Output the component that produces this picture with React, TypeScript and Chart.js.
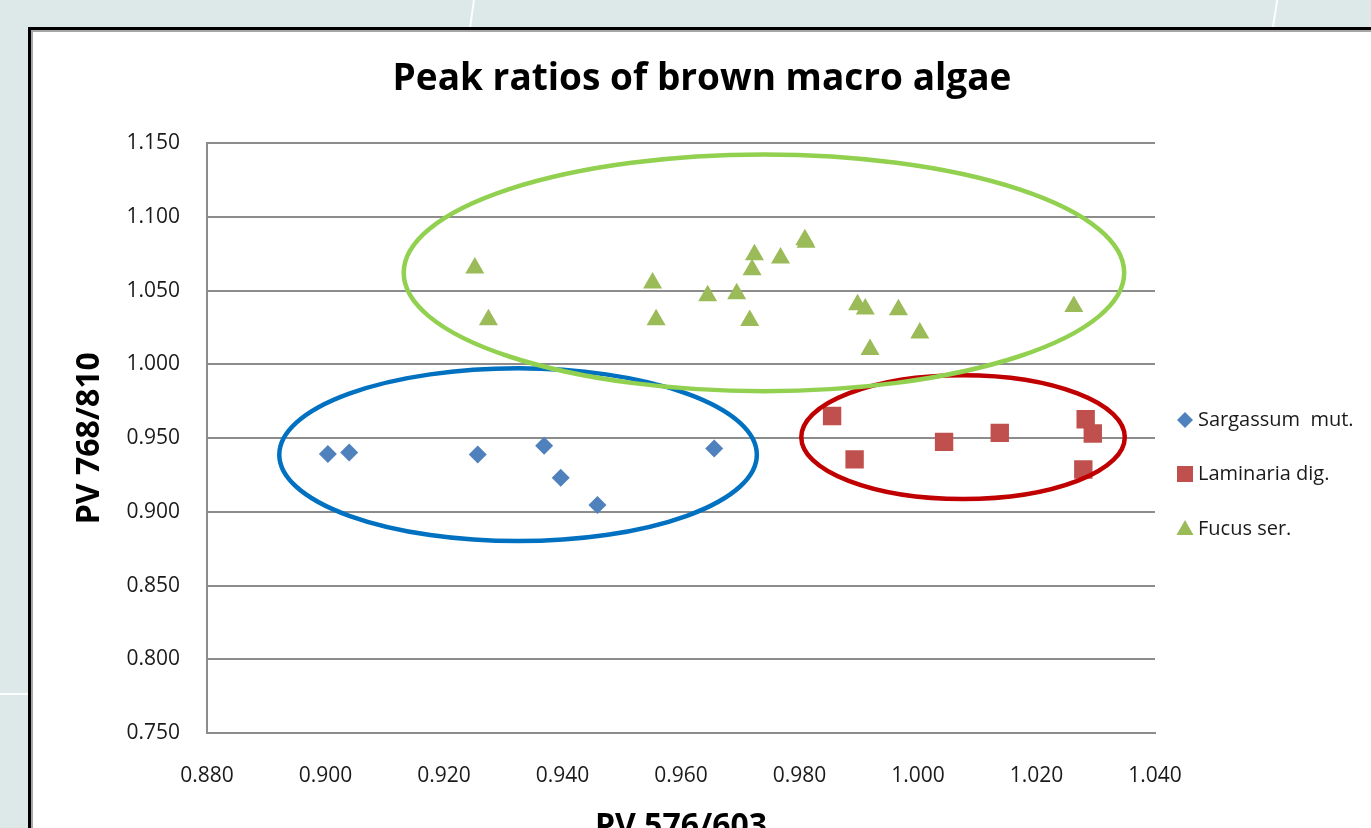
import React, { useEffect, useRef } from "react";
import { Chart, registerables } from "chart.js";

Chart.register(...registerables);

const seriesNames = ["Sargassum  mut.", "Laminaria dig.", "Fucus ser."];

const sargassumX = [0.9004, 0.904, 0.9257, 0.9369, 0.9397, 0.9459, 0.9656];
const sargassumY = [0.9392, 0.9403, 0.9389, 0.9448, 0.9231, 0.9046, 0.943];

const laminariaX = [0.9855, 0.9893, 1.0044, 1.0138, 1.0283, 1.0295, 1.0279];
const laminariaY = [0.9651, 0.9356, 0.9475, 0.9536, 0.9629, 0.9532, 0.9288];

const fucusX = [
  0.9252, 0.9275, 0.9552, 0.9558, 0.9645, 0.9694, 0.9716, 0.972, 0.9724,
  0.9768, 0.9809, 0.9811, 0.9898, 0.9911, 0.9967, 1.0003, 0.9919, 1.0263,
];
const fucusY = [
  1.0654, 1.0304, 1.0553, 1.0304, 1.0467, 1.048, 1.0299, 1.0643, 1.0745,
  1.0722, 1.0846, 1.0829, 1.0406, 1.0376, 1.0372, 1.0214, 1.0101, 1.0394,
];

const xTickValues = [0.88, 0.9, 0.92, 0.94, 0.96, 0.98, 1.0, 1.02, 1.04];
const yTickValues = [0.75, 0.8, 0.85, 0.9, 0.95, 1.0, 1.05, 1.1, 1.15];

// group ellipses (data units): Sargassum, Laminaria, Fucus
const ellipseCenterX = [0.9325, 1.0076, 0.974];
const ellipseCenterY = [0.9388, 0.9507, 1.0622];
const ellipseRadiusX = [0.0403, 0.0273, 0.0608];
const ellipseRadiusY = [0.0586, 0.042, 0.0803];

const markerColors = ["#4f81bd", "#c0504d", "#9bbb59"];
const markerStyles = ["rectRot", "rect", "triangle"];
const markerRadii = [9, 13, 11];
const ellipseColors = ["#0070c0", "#c00000", "#92d050"];

const FONT = "'Open Sans', 'DejaVu Sans', sans-serif";

function pts(xs: number[], ys: number[]) {
  return xs.map((x, i) => ({ x, y: ys[i] }));
}

const ellipsePlugin = {
  id: "groupEllipses",
  afterDatasetsDraw(chart: any) {
    const { ctx, scales } = chart;
    const xs = scales.x;
    const ys = scales.y;
    ctx.save();
    ellipseCenterX.forEach((cx, i) => {
      const px = xs.getPixelForValue(cx);
      const py = ys.getPixelForValue(ellipseCenterY[i]);
      const rx = Math.abs(xs.getPixelForValue(cx + ellipseRadiusX[i]) - px);
      const ry = Math.abs(ys.getPixelForValue(ellipseCenterY[i] + ellipseRadiusY[i]) - py);
      ctx.beginPath();
      ctx.ellipse(px, py, rx, ry, 0, 0, Math.PI * 2);
      ctx.strokeStyle = ellipseColors[i];
      ctx.lineWidth = 4.5;
      ctx.stroke();
    });
    ctx.restore();
  },
};

const legendPlugin = {
  id: "sideLegend",
  afterDraw(chart: any) {
    const { ctx } = chart;
    const mx = 1152;
    const tx = 1165;
    const ys = [388, 442, 497];
    ctx.save();
    chart.data.datasets.forEach((ds: any, i: number) => {
      const y = ys[i];
      ctx.fillStyle = ds.backgroundColor;
      ctx.beginPath();
      if (ds.pointStyle === "rectRot") {
        const r = 8;
        ctx.moveTo(mx - r, y);
        ctx.lineTo(mx, y - r);
        ctx.lineTo(mx + r, y);
        ctx.lineTo(mx, y + r);
        ctx.closePath();
      } else if (ds.pointStyle === "rect") {
        ctx.rect(mx - 8, y - 8, 16, 16);
      } else {
        ctx.moveTo(mx, y - 9);
        ctx.lineTo(mx + 8.5, y + 6);
        ctx.lineTo(mx - 8.5, y + 6);
        ctx.closePath();
      }
      ctx.fill();
      ctx.fillStyle = "#1a1a1a";
      ctx.font = `20px ${FONT}`;
      ctx.textBaseline = "middle";
      ctx.textAlign = "left";
      ctx.fillText(ds.label, tx, y);
    });
    ctx.restore();
  },
};

export default function App() {
  const ref = useRef<HTMLCanvasElement | null>(null);

  useEffect(() => {
    if (!ref.current) return;
    const seriesX = [sargassumX, laminariaX, fucusX];
    const seriesY = [sargassumY, laminariaY, fucusY];
    const chart = new Chart(ref.current, {
      type: "scatter",
      data: {
        datasets: seriesNames.map((name, i) => ({
          label: name,
          data: pts(seriesX[i], seriesY[i]),
          backgroundColor: markerColors[i],
          borderColor: markerColors[i],
          borderWidth: 0,
          pointStyle: markerStyles[i] as any,
          pointRadius: markerRadii[i],
          pointHoverRadius: markerRadii[i],
        })),
      },
      options: {
        responsive: false,
        animation: false,
        layout: { padding: { left: 0, right: 0, top: 0, bottom: 0 } },
        plugins: {
          legend: { display: false },
          tooltip: { enabled: false },
          title: {
            display: true,
            text: "Peak ratios of brown macro algae",
            color: "#000",
            font: { family: FONT, size: 37, weight: "bold" },
            padding: { top: 25, bottom: 42 },
          },
        },
        scales: {
          x: {
            type: "linear",
            min: 0.88,
            max: 1.04,
            afterBuildTicks: (s: any) => {
              s.ticks = xTickValues.map((v) => ({ value: v }));
            },
            afterFit: (s: any) => {
              s.height = 120;
            },
            grid: { display: false },
            border: { display: true, color: "#8c8c8c", width: 2 },
            ticks: {
              color: "#1a1a1a",
              font: { family: FONT, size: 21 },
              padding: 22,
              maxRotation: 0,
              autoSkip: false,
              callback: (v: any) => Number(v).toFixed(3),
            },
            title: {
              display: true,
              text: "PV 576/603",
              color: "#000",
              font: { family: FONT, size: 32, weight: "bold" },
              padding: { top: 0, bottom: 7 },
            },
          },
          y: {
            type: "linear",
            min: 0.75,
            max: 1.15,
            afterBuildTicks: (s: any) => {
              s.ticks = yTickValues.map((v) => ({ value: v }));
            },
            afterFit: (s: any) => {
              s.width = 174;
            },
            grid: { display: true, color: "#8c8c8c", lineWidth: 2, drawTicks: false },
            border: { display: true, color: "#8c8c8c", width: 2 },
            ticks: {
              color: "#1a1a1a",
              font: { family: FONT, size: 21 },
              padding: 27,
              autoSkip: false,
              callback: (v: any) => Number(v).toFixed(3),
            },
            title: {
              display: true,
              text: "PV 768/810",
              color: "#000",
              font: { family: FONT, size: 32, weight: "bold" },
              padding: { top: 38, bottom: 0 },
            },
          },
          legendSpace: {
            type: "linear",
            position: "right",
            display: true,
            afterFit: (s: any) => {
              s.width = 216;
            },
            grid: { display: false, drawTicks: false },
            border: { display: false },
            ticks: { display: false },
          },
        },
      },
      plugins: [ellipsePlugin, legendPlugin],
    });
    return () => chart.destroy();
  }, []);

  return (
    <div
      style={{
        position: "fixed",
        left: 0,
        top: 0,
        width: 1371,
        height: 828,
        overflow: "hidden",
        background: "#dde9e9",
      }}
    >
      <div
        style={{
          position: "absolute",
          left: 471,
          top: -2,
          width: 2,
          height: 32,
          background: "rgba(255,255,255,0.9)",
          transform: "skewX(-8deg)",
        }}
      />
      <div
        style={{
          position: "absolute",
          left: 1274,
          top: -2,
          width: 2,
          height: 32,
          background: "rgba(255,255,255,0.9)",
          transform: "skewX(-9deg)",
        }}
      />
      <div
        style={{
          position: "absolute",
          left: 0,
          top: 693,
          width: 28,
          height: 2,
          background: "rgba(255,255,255,0.9)",
        }}
      />
      <div
        style={{
          position: "absolute",
          left: 28,
          top: 27,
          width: 1500,
          height: 1000,
          border: "3px solid #000",
          boxShadow: "inset 0 0 0 2px #a6a6a6",
          background: "#fff",
        }}
      />
      <canvas
        ref={ref}
        width={1338}
        height={821}
        style={{ position: "absolute", left: 33, top: 32, width: 1338, height: 821, display: "block" }}
      />
    </div>
  );
}
